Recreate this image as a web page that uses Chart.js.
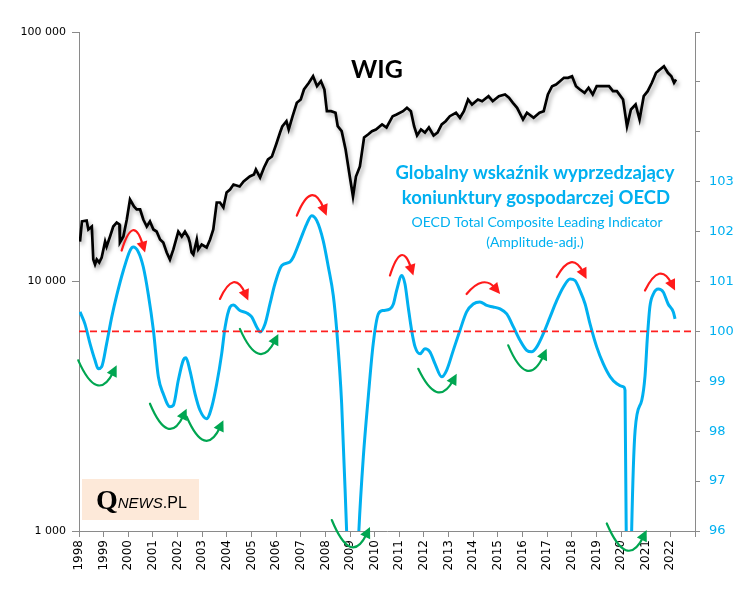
<!DOCTYPE html>
<html>
<head>
<meta charset="utf-8">
<title>WIG vs OECD CLI</title>
<script src="https://cdn.jsdelivr.net/npm/chart.js@4.4.0/dist/chart.umd.min.js"></script>
<style>
  html, body { margin: 0; padding: 0; background: #fff; }
  #wrap { width: 749px; height: 599px; }
</style>
</head>
<body>
<div id="wrap"><canvas id="wig-chart" width="749" height="599"></canvas></div>
<script>
// WIG index (left, log axis)
const wigYears = [
  1998.04, 1998.12, 1998.31, 1998.38, 1998.52, 1998.58, 1998.65, 1998.72, 1998.82, 1998.92,
  1999.06, 1999.12, 1999.26, 1999.39, 1999.53, 1999.64, 1999.66, 1999.80, 1999.94, 2000.07,
  2000.14, 2000.23, 2000.34, 2000.48, 2000.61, 2000.75, 2000.88, 2001.02, 2001.15, 2001.29,
  2001.42, 2001.56, 2001.69, 2001.83, 2002.03, 2002.17, 2002.30, 2002.44, 2002.50, 2002.57,
  2002.64, 2002.78, 2002.84, 2002.98, 2003.18, 2003.32, 2003.45, 2003.59, 2003.72, 2003.86,
  2003.99, 2004.13, 2004.27, 2004.52, 2004.68, 2004.93, 2005.10, 2005.18, 2005.35, 2005.51,
  2005.67, 2005.83, 2006.00, 2006.16, 2006.25, 2006.42, 2006.51, 2006.67, 2006.84, 2007.00,
  2007.13, 2007.33, 2007.50, 2007.66, 2007.82, 2007.96, 2008.06, 2008.23, 2008.41, 2008.50,
  2008.66, 2008.82, 2008.99, 2009.12, 2009.24, 2009.40, 2009.57, 2009.73, 2009.89, 2010.05,
  2010.30, 2010.48, 2010.73, 2010.89, 2011.15, 2011.31, 2011.47, 2011.60, 2011.72, 2011.88,
  2012.04, 2012.20, 2012.39, 2012.55, 2012.72, 2012.88, 2013.05, 2013.30, 2013.46, 2013.62,
  2013.79, 2013.95, 2014.19, 2014.36, 2014.62, 2014.79, 2015.04, 2015.29, 2015.45, 2015.61,
  2015.78, 2016.02, 2016.18, 2016.45, 2016.69, 2016.86, 2017.03, 2017.20, 2017.36, 2017.52,
  2017.68, 2017.85, 2018.01, 2018.17, 2018.33, 2018.52, 2018.68, 2018.85, 2019.01, 2019.27,
  2019.51, 2019.67, 2019.83, 2020.08, 2020.24, 2020.40, 2020.59, 2020.75, 2020.92, 2021.08,
  2021.25, 2021.42, 2021.58, 2021.74, 2021.90, 2022.04, 2022.15, 2022.23
];
const wigValues = [
  14460, 17400, 17560, 16160, 16610, 12250, 11700, 12250, 11920, 12480,
  14460, 13810, 15150, 16610, 17230, 16920, 14330, 15150, 17720, 21310,
  20730, 19980, 19440, 19440, 17720, 16610, 17400, 16160, 15860, 14740,
  14330, 13070, 12250, 13440, 15860, 15150, 15860, 15010, 14330, 13070,
  12830, 14740, 13440, 14070, 13690, 14740, 16160, 20730, 20730, 19800,
  22740, 23380, 24470, 24030, 25160, 26350, 26840, 28110, 26100, 28630,
  30830, 31700, 35410, 39550, 41800, 43900, 40660, 45980, 52030, 53640,
  58830, 62580, 66500, 60650, 63510, 58830, 48150, 48150, 47450, 41920,
  40030, 33810, 26350, 21910, 26350, 28900, 37780, 38830, 40030, 40660,
  42590, 41420, 45980, 46710, 48150, 49680, 48150, 41920, 38480, 40660,
  39550, 41420, 38480, 39550, 42590, 43900, 45980, 47450, 45310, 48150,
  53640, 51220, 53640, 52800, 55300, 52800, 55300, 56170, 54490, 52030,
  49680, 44600, 47450, 45310, 47450, 48150, 56170, 60650, 61610, 63510,
  65530, 65530, 66500, 60650, 58830, 57060, 59760, 56170, 60650, 60650,
  60650, 57910, 57910, 53640, 41920, 48900, 51220, 44600, 55300, 57910,
  62580, 68620, 70740, 72920, 68620, 66500, 62580, 64510
];

// OECD composite leading indicator (right axis)
const cliYears = [
  1998.04, 1998.24, 1998.45, 1998.65, 1998.78, 1998.92, 1999.12, 1999.33, 1999.53, 1999.80,
  2000.07, 2000.20, 2000.41, 2000.61, 2000.81, 2001.02, 2001.22, 2001.42, 2001.69, 2001.83,
  2002.03, 2002.23, 2002.34, 2002.50, 2002.71, 2002.91, 2003.18, 2003.39, 2003.59, 2003.79,
  2003.93, 2004.13, 2004.26, 2004.53, 2004.81, 2005.01, 2005.21, 2005.35, 2005.55, 2005.75,
  2005.95, 2006.23, 2006.56, 2006.70, 2006.97, 2007.24, 2007.44, 2007.65, 2007.91, 2008.12,
  2008.32, 2008.46, 2008.66, 2008.86, 2009.00, 2009.12, 2009.24, 2009.36, 2009.54, 2009.74,
  2009.94, 2010.15, 2010.35, 2010.62, 2010.76, 2010.89, 2011.10, 2011.23, 2011.36, 2011.50,
  2011.64, 2011.84, 2012.04, 2012.24, 2012.45, 2012.72, 2012.92, 2013.19, 2013.46, 2013.73,
  2014.00, 2014.27, 2014.55, 2014.81, 2015.09, 2015.36, 2015.63, 2015.90, 2016.17, 2016.37,
  2016.58, 2016.84, 2017.12, 2017.39, 2017.66, 2017.93, 2018.13, 2018.33, 2018.54, 2018.74,
  2019.01, 2019.28, 2019.56, 2019.83, 2020.09, 2020.16, 2020.25, 2020.33, 2020.42, 2020.57,
  2020.84, 2020.97, 2021.07, 2021.17, 2021.31, 2021.51, 2021.71, 2021.91, 2022.12, 2022.19
];
const cliValues = [
  100.39, 100.15, 99.75, 99.42, 99.25, 99.29, 99.75, 100.29, 100.72, 101.22,
  101.62, 101.69, 101.59, 101.29, 100.75, 100.02, 99.09, 98.75, 98.49, 98.52,
  99.02, 99.42, 99.47, 99.22, 98.75, 98.42, 98.25, 98.49, 98.95, 99.55,
  100.09, 100.49, 100.53, 100.42, 100.37, 100.29, 100.09, 99.99, 100.15, 100.55,
  100.95, 101.32, 101.39, 101.49, 101.82, 102.15, 102.32, 102.22, 101.82, 101.29,
  100.72, 100.02, 98.55, 96.02, 94.2, 93.6, 94.5, 96.02, 97.49, 98.69,
  99.75, 100.35, 100.42, 100.45, 100.55, 100.82, 101.12, 100.95, 100.49, 100.02,
  99.69, 99.55, 99.65, 99.59, 99.35, 99.09, 99.22, 99.62, 100.02, 100.39,
  100.55, 100.59, 100.52, 100.49, 100.45, 100.35, 100.09, 99.82, 99.62, 99.59,
  99.69, 99.95, 100.29, 100.62, 100.89, 101.05, 101.02, 100.82, 100.55, 100.15,
  99.69, 99.35, 99.09, 98.95, 98.89, 98.82, 93.4, 92.9, 95.8, 98.02,
  98.62, 99.1, 99.9, 100.5, 100.75, 100.85, 100.79, 100.55, 100.39, 100.25
];
const cliBase = 100;

// axes
const yearFirst = 1998;
const yearLast = 2023;
const wigTicks = [1000, 10000, 100000];
const cliMin = 96;
const cliMax = 106;
const cliLabelMax = 103;

// turning point arrows: [year from, value from, year to, value to, value at top/bottom of arc]
const redArrows = [
  [1999.73, 101.62, 2000.68, 101.58, 101.99],
  [2003.72, 100.65, 2004.87, 100.62, 100.95],
  [2006.84, 102.32, 2008.05, 102.32, 102.69],
  [2010.62, 101.12, 2011.57, 101.12, 101.49],
  [2013.73, 100.75, 2015.09, 100.75, 100.95],
  [2017.39, 101.09, 2018.60, 101.05, 101.35],
  [2020.97, 100.82, 2022.19, 100.82, 101.12]
];
const greenArrows = [
  [1997.97, 99.42, 1999.53, 99.32, 98.96],
  [2000.88, 98.55, 2002.37, 98.45, 98.09],
  [2002.37, 98.29, 2003.86, 98.22, 97.85],
  [2004.53, 100.05, 2006.09, 99.95, 99.59],
  [2008.26, 96.22, 2009.81, 96.08, 95.72],
  [2011.77, 99.25, 2013.33, 99.15, 98.82],
  [2015.42, 99.72, 2016.98, 99.65, 99.25],
  [2019.42, 96.15, 2021.04, 96.02, 95.65]
];

const axisGrey = '#8a8a8a';
const cliBlue = '#00b0f0';
const arrowRed = '#ff1a1a';
const arrowGreen = '#00a651';

const toPoints = (xs, ys) => xs.map((x, i) => ({ x: x, y: ys[i] }));
const spaced = v => String(v).replace(/\B(?=(\d{3})+(?!\d))/g, ' ');

// soft drop shadow under the WIG line
const lineShadow = {
  id: 'lineShadow',
  beforeDatasetDraw(chart, args) {
    if (args.index !== 0) return;
    const c = chart.ctx;
    c.save();
    c.shadowColor = 'rgba(0,0,0,0.35)';
    c.shadowBlur = 4;
    c.shadowOffsetX = 2;
    c.shadowOffsetY = 3;
  },
  afterDatasetDraw(chart, args) {
    if (args.index === 0) chart.ctx.restore();
  }
};

const trendArrows = {
  id: 'trendArrows',
  afterDatasetsDraw(chart) {
    const ctx = chart.ctx;
    const xs = chart.scales.x, ys = chart.scales.y2;
    const drawArc = (a, colour) => {
      const x0 = xs.getPixelForValue(a[0]), y0 = ys.getPixelForValue(a[1]);
      const x1 = xs.getPixelForValue(a[2]), y1 = ys.getPixelForValue(a[3]);
      const ye = ys.getPixelForValue(a[4]);
      const cx = (x0 + x1) / 2, cy = 2 * ye - (y0 + y1) / 2;
      const ang = Math.atan2(y1 - cy, x1 - cx);
      const head = 11, half = 5.5;
      const bx = x1 - Math.cos(ang) * head * 0.7, by = y1 - Math.sin(ang) * head * 0.7;
      ctx.save();
      ctx.strokeStyle = colour;
      ctx.fillStyle = colour;
      ctx.lineWidth = 2.2;
      ctx.lineCap = 'round';
      ctx.beginPath();
      ctx.moveTo(x0, y0);
      ctx.quadraticCurveTo(cx, cy, bx, by);
      ctx.stroke();
      const hx = x1 - Math.cos(ang) * head, hy = y1 - Math.sin(ang) * head;
      ctx.beginPath();
      ctx.moveTo(x1, y1);
      ctx.lineTo(hx - Math.sin(ang) * half, hy + Math.cos(ang) * half);
      ctx.lineTo(hx + Math.sin(ang) * half, hy - Math.cos(ang) * half);
      ctx.closePath();
      ctx.fill();
      ctx.restore();
    };
    redArrows.forEach(a => drawArc(a, arrowRed));
    greenArrows.forEach(a => drawArc(a, arrowGreen));
  }
};

const captions = {
  id: 'captions',
  afterDraw(chart) {
    const ctx = chart.ctx;
    ctx.save();
    ctx.textAlign = 'center';
    ctx.textBaseline = 'alphabetic';
    ctx.fillStyle = '#000';
    ctx.font = 'bold 25px Lato';
    ctx.fillText('WIG', 377, 78);

    ctx.fillStyle = cliBlue;
    ctx.font = 'bold 18.5px Lato';
    ctx.fillText('Globalny wskaźnik wyprzedzający', 535, 179);
    ctx.fillText('koniunktury gospodarczej OECD', 536, 204);
    ctx.font = '14px Lato';
    ctx.fillText('OECD Total Composite Leading Indicator', 537, 227);
    ctx.fillText('(Amplitude-adj.)', 535, 247);

    // logo
    ctx.fillStyle = '#fde9d9';
    ctx.fillRect(82, 479, 117, 41);
    ctx.fillStyle = '#000';
    ctx.textAlign = 'left';
    ctx.font = 'bold 28px "Liberation Serif"';
    ctx.fillText('Q', 96, 509);
    let px = 96 + ctx.measureText('Q').width;
    ctx.font = 'italic 15px "Liberation Sans"';
    ctx.fillText('NEWS', px, 508);
    px += ctx.measureText('NEWS').width;
    ctx.font = '16px "Liberation Sans"';
    ctx.fillText('.PL', px, 508);
    ctx.restore();
  }
};

const ctx = document.getElementById('wig-chart').getContext('2d');

const wigChart = new Chart(ctx, {
  type: 'line',
  data: {
    datasets: [{
      label: 'WIG',
      data: toPoints(wigYears, wigValues),
      yAxisID: 'y',
      borderColor: '#000',
      borderWidth: 2.7,
      pointRadius: 0,
      tension: 0,
      order: 0
    }, {
      label: '100',
      data: [{ x: yearFirst, y: cliBase }, { x: yearLast, y: cliBase }],
      yAxisID: 'y2',
      borderColor: '#ff2020',
      borderWidth: 1.8,
      borderDash: [7, 4],
      pointRadius: 0,
      order: 1
    }, {
      label: 'OECD CLI',
      data: toPoints(cliYears, cliValues),
      yAxisID: 'y2',
      borderColor: cliBlue,
      borderWidth: 3,
      pointRadius: 0,
      cubicInterpolationMode: 'monotone',
      order: 2
    }]
  },
  options: {
    responsive: false,
    animation: false,
    events: [],
    layout: { padding: { top: 32, left: 0, right: 0, bottom: 0 } },
    plugins: {
      legend: { display: false },
      tooltip: { enabled: false }
    },
    scales: {
      x: {
        type: 'linear',
        min: yearFirst,
        max: yearLast,
        border: { color: axisGrey, width: 1 },
        grid: { drawOnChartArea: false, drawTicks: true, tickLength: 6, color: axisGrey },
        ticks: {
          stepSize: 1,
          autoSkip: false,
          minRotation: 90,
          maxRotation: 90,
          padding: 3,
          color: '#000',
          font: { family: 'DejaVu Sans', size: 12 },
          callback: v => (v < yearLast ? String(v) : '')
        },
        afterFit: s => { s.height = 68; }
      },
      y: {
        type: 'logarithmic',
        position: 'left',
        min: 1000,
        max: 100000,
        border: { color: axisGrey, width: 1 },
        grid: { drawOnChartArea: false, drawTicks: true, tickLength: 7, color: axisGrey },
        afterBuildTicks: s => { s.ticks = wigTicks.map(v => ({ value: v })); },
        ticks: {
          padding: 6,
          color: '#000',
          font: { family: 'DejaVu Sans', size: 11 },
          callback: v => spaced(v)
        },
        afterFit: s => { s.width = 79; }
      },
      y2: {
        type: 'linear',
        position: 'right',
        min: cliMin,
        max: cliMax,
        border: { color: axisGrey, width: 1 },
        grid: { drawOnChartArea: false, drawTicks: true, tickLength: 5, color: axisGrey },
        ticks: {
          stepSize: 1,
          padding: 9,
          color: cliBlue,
          font: { family: 'DejaVu Sans', size: 13 },
          callback: v => (v <= cliLabelMax ? String(v) : '')
        },
        afterFit: s => { s.width = 54; }
      }
    }
  },
  plugins: [lineShadow, trendArrows, captions]
});
</script>
</body>
</html>
